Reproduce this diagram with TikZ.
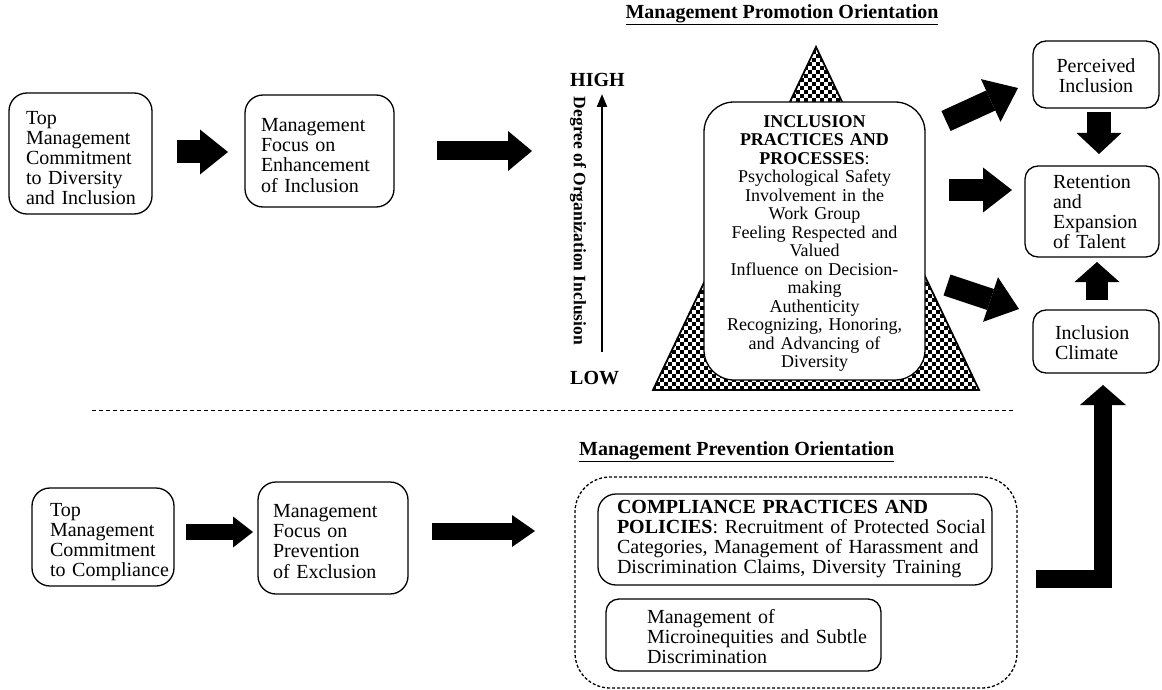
\documentclass[tikz,border=0pt]{standalone}
\usepackage{fontspec}
\setmainfont{Liberation Serif}
\usetikzlibrary{arrows.meta,patterns}
\pgfdeclarepatternformonly{bigdots}{\pgfpoint{-1pt}{-1pt}}{\pgfpoint{9pt}{9pt}}{\pgfpoint{8pt}{8pt}}{%
 \pgfpathrectangle{\pgfpoint{0pt}{0pt}}{\pgfpoint{3.8pt}{3.8pt}}%
 \pgfpathrectangle{\pgfpoint{4pt}{4pt}}{\pgfpoint{3.8pt}{3.8pt}}%
 \pgfusepath{fill}}
\newcommand{\boxlines}[2][0pt]{\raisebox{-#1}[\height][\depth]{\begin{tabular}{@{}l@{}}#2\end{tabular}}}
\newcommand{\boxcenter}[2][0pt]{\raisebox{-#1}[\height][\depth]{\begin{tabular}{@{}c@{}}#2\end{tabular}}}
\begin{document}
\begin{tikzpicture}[x=1pt,y=-1pt,
  box/.style={draw, line width=1.3pt, rounded corners=18pt, align=left,
    font=\fontsize{20}{20}\selectfont, inner ysep=0pt, fill=white},
  rbox/.style={box, rounded corners=13pt},
  blockarrow/.style n args={3}{line width=#1, line cap=butt, line join=miter,
    -{Triangle[length=#2, width=#3, line width=0pt]}},
  ttl/.style={font=\bfseries\fontsize{20}{20}\selectfont, inner sep=0pt},
]
\useasboundingbox (0,0) rectangle (1162,690);

% titles
\node[ttl] (t1) at (782,15) {\underline{Management Promotion Orientation}};
\node[ttl, anchor=west] (t2) at (579,452) {\underline{Management Prevention Orientation}};

% upper left boxes
\node[box, minimum width=143pt, minimum height=121pt, text width=109pt, inner xsep=17pt]
  (b1) at (80.5,153.5) {\boxlines[7pt]{Top\\Management\\Commitment\\to Diversity\\and Inclusion}};
\node[box, minimum width=149pt, minimum height=112pt, text width=117pt, inner xsep=16pt]
  (b2) at (319.5,151) {\boxlines[7pt]{Management\\Focus on\\Enhancement\\of Inclusion}};

% lower left boxes
\node[box, minimum width=142pt, minimum height=98pt, text width=106pt, inner xsep=18pt]
  (b3) at (103,537) {\boxlines[5pt]{Top\\Management\\Commitment\\to Compliance}};
\node[box, minimum width=150pt, minimum height=112pt, text width=120pt, inner xsep=15pt]
  (b4) at (333,538) {\boxlines[6pt]{Management\\Focus on\\Prevention\\of Exclusion}};

% scale
\node[ttl, anchor=west] (high) at (570,80) {HIGH};
\node[ttl, anchor=west] (low) at (570,378) {LOW};
\node[rotate=-90, font=\bfseries\fontsize{17.5}{17.5}\selectfont, inner sep=0pt] (deg) at (578,221) {Degree of Organization Inclusion};
\coordinate (sb) at (602,352);
\coordinate (st) at (602,94);
\draw[line width=2.2pt, -{Triangle[length=13pt,width=10pt]}] (sb) -- (st);

% triangle
\draw[line width=1.8pt, line join=miter, pattern=bigdots] (816,47) -- (979,390) -- (653,390) -- cycle;

% inclusion practices box
\node[box, rounded corners=30pt, align=center, minimum width=221pt, minimum height=278pt,
  text width=211pt, inner xsep=5pt, font=\fontsize{18}{18.5}\selectfont]
  (ip) at (814.5,241) {\boxcenter[3pt]{\textbf{INCLUSION}\\\textbf{PRACTICES AND}\\\textbf{PROCESSES}:\\
  Psychological Safety\\Involvement in the\\Work Group\\Feeling Respected and\\Valued\\
  Influence on Decision-\\making\\Authenticity\\Recognizing, Honoring,\\and Advancing of\\Diversity}};

% right boxes
\node[rbox, align=center, minimum width=126pt, minimum height=67pt, text width=110pt, inner xsep=8pt]
  (pi) at (1096,74.5) {\boxcenter[4pt]{Perceived\\Inclusion}};
\node[rbox, minimum width=134pt, minimum height=91pt, text width=78pt, inner xsep=28pt]
  (rt) at (1092,211.5) {\boxlines[3pt]{Retention\\and\\Expansion\\of Talent}};
\node[rbox, minimum width=126pt, minimum height=63pt, text width=82pt, inner xsep=22pt]
  (ic) at (1096,341.5) {\boxlines[4pt]{Inclusion\\Climate}};

% separator
\draw[line width=1pt, dash pattern=on 4pt off 3pt] (92,410) -- (1015,410);

% prevention container
\node[draw, line width=1.3pt, dash pattern=on 3pt off 2pt, rounded corners=35pt,
  minimum width=442pt, minimum height=211pt] (pv) at (796,582.5) {};
\node[box, minimum width=394pt, minimum height=91pt, text width=356pt, inner xsep=19pt]
  (cp) at (795,539.5) {\boxlines{\textbf{COMPLIANCE PRACTICES AND}\\\textbf{POLICIES}: Recruitment of Protected Social\\
  Categories, Management of Harassment and\\Discrimination Claims, Diversity Training}};
\node[rbox, minimum width=275pt, minimum height=72pt, text width=193pt, inner xsep=41pt]
  (mi) at (743.5,635) {\boxlines[4pt]{Management of\\Microinequities and Subtle\\Discrimination}};

% block arrows
\coordinate (a1s) at (177,152);  \coordinate (a1e) at (228,152);
\coordinate (a2s) at (437,151);  \coordinate (a2e) at (532,151);
\coordinate (a3s) at (186,532);  \coordinate (a3e) at (253,532);
\coordinate (a4s) at (432,531);  \coordinate (a4e) at (535,531);
\coordinate (a5s) at (946,121);  \coordinate (a5e) at (1018,88);
\coordinate (a6s) at (949,190);  \coordinate (a6e) at (1012,190);
\coordinate (a7s) at (947,285);  \coordinate (a7e) at (1019,309);
\coordinate (a8s) at (1099,112); \coordinate (a8e) at (1099,154);
\coordinate (a9s) at (1097,300); \coordinate (a9e) at (1097,262);
\coordinate (a10s) at (1036,579); \coordinate (a10c) at (1103,579); \coordinate (a10e) at (1103,385);

\draw[blockarrow={23pt}{28pt}{45pt}] (a1s) -- (a1e);
\draw[blockarrow={19pt}{24pt}{40pt}] (a2s) -- (a2e);
\draw[blockarrow={16pt}{20pt}{31pt}] (a3s) -- (a3e);
\draw[blockarrow={17pt}{23pt}{32pt}] (a4s) -- (a4e);
\draw[blockarrow={22pt}{30pt}{47pt}] (a5s) -- (a5e);
\draw[blockarrow={22pt}{29pt}{45pt}] (a6s) -- (a6e);
\draw[blockarrow={22pt}{30pt}{47pt}] (a7s) -- (a7e);
\draw[blockarrow={24pt}{21pt}{45pt}] (a8s) -- (a8e);
\draw[blockarrow={22pt}{20pt}{45pt}] (a9s) -- (a9e);
\draw[blockarrow={18pt}{20pt}{46pt}] (a10s) -- (a10c) -- (a10e);
\end{tikzpicture}
\end{document}
